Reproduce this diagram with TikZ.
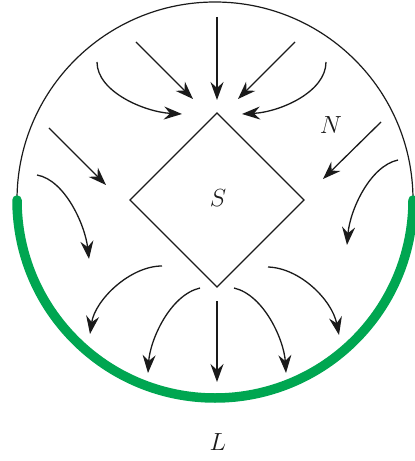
\documentclass[tikz,border=0pt]{standalone}
\usepackage{amsmath,amssymb}
\usetikzlibrary{arrows.meta}
\definecolor{ink}{HTML}{1A1A1A}
\definecolor{bandgreen}{HTML}{00A651}
\tikzset{
  letter/.style={anchor=center,font=\fontsize{25bp}{30bp}\selectfont,text=ink},
  rim/.style={draw=ink,line width=1.2bp},
  band/.style={draw=bandgreen,line width=9.5bp,line cap=round},
  body/.style={draw=ink,line width=1.3bp,line join=miter},
  flow/.style={draw=ink,line width=1.3bp,-{Stealth[length=18bp,width=13bp,inset=6bp]}}
}
\begin{document}
\begin{tikzpicture}[x=1bp,y=-1bp,every node/.style={inner sep=0pt,outer sep=0pt}]
\path[use as bounding box] (0,0) rectangle (414,461);

% outer domain and boundary part L
\draw[rim] (215,200) circle[radius=198];
\draw[band] (17,200) arc[start angle=180,end angle=0,radius=198];

% obstacle S
\draw[body] (217,113) -- (304,200) -- (217,287) -- (130,200) -- cycle;
\node[letter] (s-label) at (218,198) {$S$};
\node[letter] (n-label) at (331,125) {$N$};
\node[letter] (l-label) at (218,442) {$L$};

% flow into S
\draw[flow] (217,17) -- (217,100);
\draw[flow] (136,42) -- (193,99);
\draw[flow] (295,42) -- (238,99);
\draw[flow] (49,128) -- (106,185);
\draw[flow] (381,122) -- (323,179);
\draw[flow] (97,62) .. controls (97,92) and (145,112) .. (182,114);
\draw[flow] (326,62) .. controls (326,92) and (280,112) .. (242,114);

% flow out towards L
\draw[flow] (37,175) .. controls (65,180) and (85,225) .. (89,259);
\draw[flow] (398,160) .. controls (370,166) and (350,210) .. (347,245);
\draw[flow] (217,301) -- (217,382);
\draw[flow] (162,266) .. controls (130,266) and (95,300) .. (90,334);
\draw[flow] (200,288) .. controls (170,295) and (150,340) .. (148,373);
\draw[flow] (234,288) .. controls (264,295) and (284,340) .. (286,373);
\draw[flow] (268,267) .. controls (300,268) and (332,300) .. (339,335);
\end{tikzpicture}
\end{document}
